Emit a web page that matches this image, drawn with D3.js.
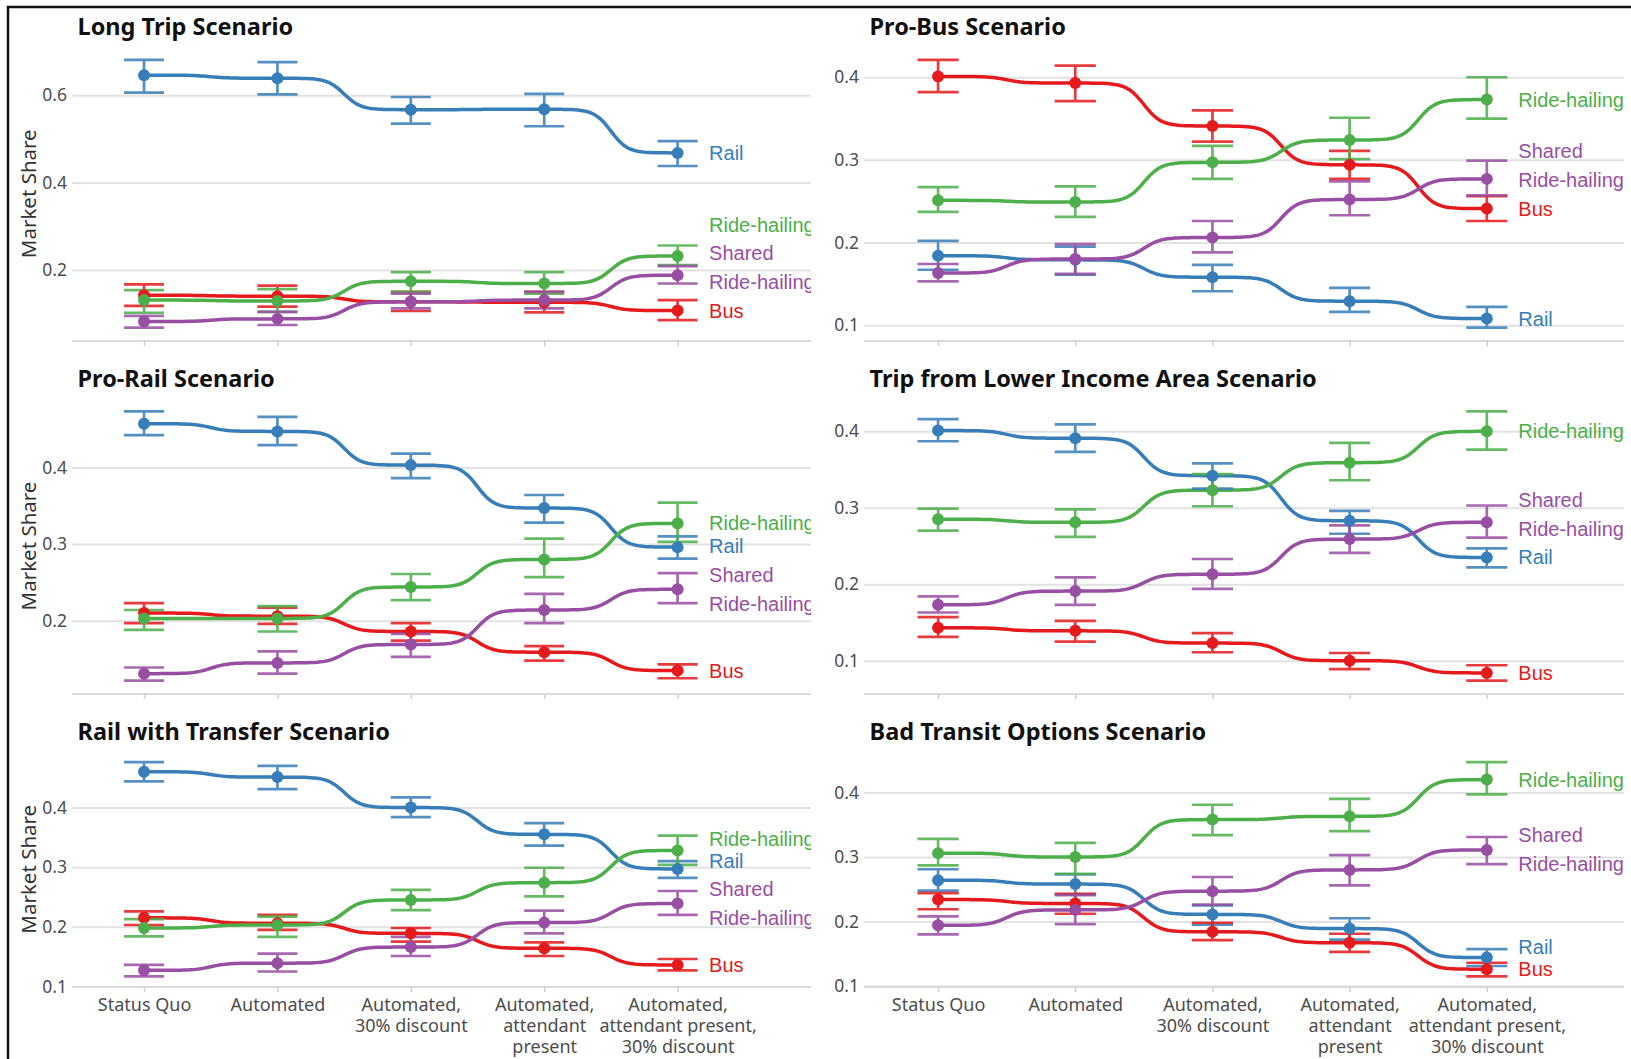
<!DOCTYPE html>
<html>
<head>
<meta charset="utf-8">
<script src="https://cdn.jsdelivr.net/npm/d3@7"></script>
<style>
  body { margin: 0; background: #fff; }
  svg { display: block; }
</style>
</head>
<body>
<svg width="1631" height="1059"></svg>
<script>
// categories on the x axis (line breaks as in the picture)
const categories = [
  ['Status Quo'],
  ['Automated'],
  ['Automated,', '30% discount'],
  ['Automated,', 'attendant', 'present'],
  ['Automated,', 'attendant present,', '30% discount']
];

const modes = ['Rail', 'Bus', 'Ride-hailing', 'Shared Ride-hailing'];
const modeLabels = [['Rail'], ['Bus'], ['Ride-hailing'], ['Shared', 'Ride-hailing']];
const modeColors = ['#377eb8', '#e41a1c', '#4daf4a', '#984ea3'];

const scenarios = [
  'Long Trip Scenario', 'Pro-Bus Scenario',
  'Pro-Rail Scenario', 'Trip from Lower Income Area Scenario',
  'Rail with Transfer Scenario', 'Bad Transit Options Scenario'
];

// rows of each array: Rail, Bus, Ride-hailing, Shared Ride-hailing
const longTripShare = [
  [0.646, 0.639, 0.567, 0.568, 0.468],
  [0.142, 0.140, 0.127, 0.126, 0.107],
  [0.131, 0.129, 0.174, 0.169, 0.232],
  [0.082, 0.088, 0.127, 0.131, 0.188]
];
const longTripLow = [
  [0.606, 0.602, 0.535, 0.529, 0.438],
  [0.118, 0.116, 0.106, 0.103, 0.085],
  [0.102, 0.104, 0.150, 0.146, 0.211],
  [0.068, 0.074, 0.112, 0.112, 0.169]
];
const longTripHigh = [
  [0.681, 0.676, 0.596, 0.603, 0.495],
  [0.167, 0.164, 0.150, 0.150, 0.131],
  [0.154, 0.156, 0.195, 0.195, 0.256],
  [0.095, 0.104, 0.146, 0.150, 0.209]
];

const proBusShare = [
  [0.184, 0.179, 0.158, 0.129, 0.108],
  [0.401, 0.393, 0.341, 0.294, 0.241],
  [0.251, 0.249, 0.297, 0.324, 0.373],
  [0.163, 0.180, 0.206, 0.252, 0.277]
];
const proBusLow = [
  [0.167, 0.161, 0.141, 0.116, 0.097],
  [0.382, 0.371, 0.322, 0.277, 0.226],
  [0.237, 0.231, 0.277, 0.301, 0.350],
  [0.153, 0.162, 0.188, 0.233, 0.257]
];
const proBusHigh = [
  [0.202, 0.195, 0.173, 0.145, 0.122],
  [0.421, 0.414, 0.360, 0.311, 0.256],
  [0.267, 0.268, 0.317, 0.351, 0.400],
  [0.174, 0.198, 0.226, 0.274, 0.299]
];

const proRailShare = [
  [0.457, 0.447, 0.403, 0.347, 0.296],
  [0.210, 0.206, 0.186, 0.159, 0.135],
  [0.203, 0.203, 0.244, 0.280, 0.327],
  [0.131, 0.145, 0.169, 0.214, 0.241]
];
const proRailLow = [
  [0.442, 0.429, 0.386, 0.328, 0.281],
  [0.197, 0.196, 0.174, 0.148, 0.125],
  [0.188, 0.186, 0.227, 0.257, 0.303],
  [0.122, 0.131, 0.153, 0.197, 0.223]
];
const proRailHigh = [
  [0.473, 0.466, 0.418, 0.364, 0.310],
  [0.223, 0.217, 0.197, 0.167, 0.143],
  [0.214, 0.219, 0.261, 0.307, 0.354],
  [0.139, 0.160, 0.183, 0.235, 0.262]
];

const lowIncomeShare = [
  [0.401, 0.391, 0.342, 0.283, 0.235],
  [0.143, 0.139, 0.123, 0.100, 0.084],
  [0.285, 0.281, 0.323, 0.359, 0.400],
  [0.173, 0.191, 0.213, 0.259, 0.281]
];
const lowIncomeLow = [
  [0.387, 0.373, 0.325, 0.266, 0.222],
  [0.131, 0.125, 0.111, 0.089, 0.074],
  [0.270, 0.262, 0.302, 0.336, 0.376],
  [0.163, 0.173, 0.194, 0.241, 0.261]
];
const lowIncomeHigh = [
  [0.416, 0.409, 0.358, 0.296, 0.247],
  [0.157, 0.152, 0.136, 0.110, 0.094],
  [0.299, 0.298, 0.344, 0.385, 0.426],
  [0.184, 0.209, 0.233, 0.277, 0.303]
];

const transferShare = [
  [0.460, 0.451, 0.400, 0.355, 0.297],
  [0.215, 0.206, 0.189, 0.164, 0.136],
  [0.198, 0.203, 0.245, 0.274, 0.328],
  [0.127, 0.139, 0.166, 0.207, 0.239]
];
const transferLow = [
  [0.444, 0.431, 0.384, 0.336, 0.282],
  [0.203, 0.195, 0.175, 0.151, 0.127],
  [0.184, 0.183, 0.228, 0.251, 0.304],
  [0.117, 0.125, 0.151, 0.189, 0.220]
];
const transferHigh = [
  [0.476, 0.470, 0.417, 0.374, 0.310],
  [0.226, 0.220, 0.198, 0.174, 0.146],
  [0.213, 0.217, 0.262, 0.299, 0.353],
  [0.136, 0.155, 0.183, 0.227, 0.260]
];

const badTransitShare = [
  [0.264, 0.258, 0.211, 0.189, 0.144],
  [0.234, 0.228, 0.184, 0.167, 0.126],
  [0.306, 0.300, 0.358, 0.363, 0.420],
  [0.194, 0.218, 0.247, 0.280, 0.311]
];
const badTransitLow = [
  [0.248, 0.242, 0.195, 0.172, 0.131],
  [0.219, 0.212, 0.171, 0.153, 0.115],
  [0.287, 0.274, 0.334, 0.340, 0.397],
  [0.180, 0.196, 0.226, 0.256, 0.289]
];
const badTransitHigh = [
  [0.281, 0.273, 0.225, 0.205, 0.157],
  [0.244, 0.243, 0.198, 0.181, 0.136],
  [0.328, 0.322, 0.381, 0.390, 0.447],
  [0.208, 0.241, 0.269, 0.303, 0.331]
];

const yTicks = [
  [0.2, 0.4, 0.6], [0.1, 0.2, 0.3, 0.4],
  [0.2, 0.3, 0.4], [0.1, 0.2, 0.3, 0.4],
  [0.1, 0.2, 0.3, 0.4], [0.1, 0.2, 0.3, 0.4]
];

const panels = [
  [longTripShare, longTripLow, longTripHigh],
  [proBusShare, proBusLow, proBusHigh],
  [proRailShare, proRailLow, proRailHigh],
  [lowIncomeShare, lowIncomeLow, lowIncomeHigh],
  [transferShare, transferLow, transferHigh],
  [badTransitShare, badTransitLow, badTransitHigh]
];

// layout
const cols = [{x0: 72, x1: 811, clip: 811}, {x0: 864, x1: 1624, clip: 1629}];
const rows = [{top: 46.5, bottom: 341}, {top: 398, bottom: 694}, {top: 751.5, bottom: 987}];

const svg = d3.select('svg');
const color = d3.scaleOrdinal(modes, modeColors);
const smooth = 8;

// frame lines seen at the top and left of the picture
svg.append('path')
  .attr('d', 'M8,1059V7H1631')
  .attr('fill', 'none')
  .attr('stroke', '#111')
  .attr('stroke-width', 2.5);

// sigmoid bump between neighbouring categories (ggbump style)
function bumpPoints(vals) {
  const pts = [];
  const n = 40;
  for (let i = 0; i < vals.length - 1; i++) {
    for (let k = 0; k <= n; k++) {
      const t = -smooth + 2 * smooth * k / n;
      const s = 1 / (1 + Math.exp(-t));
      pts.push([i + 1 + k / n, vals[i] + (vals[i + 1] - vals[i]) * s]);
    }
  }
  return pts;
}

panels.forEach((p, pi) => {
  const [share, low, high] = p;
  const col = cols[pi % 2];
  const row = rows[Math.floor(pi / 2)];

  const lo = d3.min(low.flat());
  const hi = d3.max(high.flat());
  const pad = (hi - lo) * 0.05;

  const x = d3.scaleLinear().domain([0.46, 6]).range([col.x0, col.x1]);
  const y = d3.scaleLinear().domain([lo - pad, hi + pad]).range([row.bottom, row.top]);

  const g = svg.append('g');

  // gridlines + y labels
  const yAxis = g.append('g')
    .attr('transform', `translate(${col.x0},0)`)
    .call(d3.axisLeft(y).tickValues(yTicks[pi]).tickFormat(d3.format('.1f'))
      .tickSize(-(col.x1 - col.x0)).tickPadding(5));
  yAxis.select('.domain').remove();
  yAxis.selectAll('line').attr('stroke', '#e2e2e2').attr('stroke-width', 2);
  yAxis.selectAll('text')
    .attr('font-family', 'Noto Sans')
    .attr('font-size', 17.5)
    .attr('fill', '#4d4d4d');

  // bottom axis line with ticks
  const xAxis = g.append('g')
    .attr('transform', `translate(0,${row.bottom})`)
    .call(d3.axisBottom(x).tickValues([1, 2, 3, 4, 5]).tickSize(5).tickFormat(''));
  xAxis.select('.domain')
    .attr('d', `M${col.x0},0H${col.x1}`)
    .attr('stroke', '#dadada').attr('stroke-width', 2);
  xAxis.selectAll('.tick line').attr('stroke', '#cfcfcf').attr('stroke-width', 1.5);

  if (pi >= 4) {
    xAxis.selectAll('.tick').each(function (d) {
      const t = d3.select(this).append('text')
        .attr('text-anchor', 'middle')
        .attr('font-family', 'Noto Sans')
        .attr('font-size', 18)
        .attr('fill', '#4d4d4d');
      categories[d - 1].forEach((line, li) => {
        t.append('tspan').attr('x', 0).attr('y', 24 + li * 21).text(line);
      });
    });
  }

  // title
  g.append('text')
    .attr('x', col.x0 + 5.5)
    .attr('y', row.top - 11.5)
    .attr('font-family', 'Noto Sans')
    .attr('font-weight', 'bold')
    .attr('font-size', 23.5)
    .attr('fill', '#111')
    .text(scenarios[pi]);

  // y title on the left column
  if (pi % 2 === 0) {
    g.append('text')
      .attr('transform', `translate(36,${(row.top + row.bottom) / 2}) rotate(-90)`)
      .attr('text-anchor', 'middle')
      .attr('font-family', 'Noto Sans')
      .attr('font-size', 20.5)
      .attr('fill', '#333')
      .text('Market Share');
  }

  const clipId = `clip${pi}`;
  svg.append('clipPath').attr('id', clipId)
    .append('rect')
    .attr('x', col.x0 - 30).attr('y', row.top - 20)
    .attr('width', col.clip - col.x0 + 30).attr('height', row.bottom - row.top + 40);

  const plot = g.append('g').attr('clip-path', `url(#${clipId})`);

  const line = d3.line().x(d => x(d[0])).y(d => y(d[1]));

  // lines
  plot.selectAll('.bump')
    .data(modes)
    .join('path')
    .attr('class', 'bump')
    .attr('d', (m, i) => line(bumpPoints(share[i])))
    .attr('fill', 'none')
    .attr('stroke', m => color(m))
    .attr('stroke-width', 3.5);

  // error bars
  const bars = [];
  modes.forEach((m, i) => {
    share[i].forEach((v, j) => bars.push({m, c: j + 1, lo: low[i][j], hi: high[i][j], v}));
  });
  const eb = plot.selectAll('.eb')
    .data(bars)
    .join('g')
    .attr('class', 'eb')
    .attr('stroke', d => color(d.m))
    .attr('stroke-width', 2.7)
    .attr('opacity', 0.85);
  eb.append('line')
    .attr('x1', d => x(d.c)).attr('x2', d => x(d.c))
    .attr('y1', d => y(d.lo)).attr('y2', d => y(d.hi));
  eb.append('line')
    .attr('x1', d => x(d.c - 0.15)).attr('x2', d => x(d.c + 0.15))
    .attr('y1', d => y(d.lo)).attr('y2', d => y(d.lo));
  eb.append('line')
    .attr('x1', d => x(d.c - 0.15)).attr('x2', d => x(d.c + 0.15))
    .attr('y1', d => y(d.hi)).attr('y2', d => y(d.hi));

  // points
  plot.selectAll('.pt')
    .data(bars)
    .join('circle')
    .attr('class', 'pt')
    .attr('cx', d => x(d.c))
    .attr('cy', d => y(d.v))
    .attr('r', 6)
    .attr('fill', d => color(d.m));

  // end labels, pushed upward where they would overlap
  const half = n => (n === 1 ? 11 : 32);
  const labels = modes.map((m, i) => ({
    m, lines: modeLabels[i], target: y(share[i][4])
  })).sort((a, b) => b.target - a.target);
  labels.forEach((l, i) => {
    l.y = l.target;
    if (i > 0) {
      const prev = labels[i - 1];
      l.y = Math.min(l.target, prev.y - half(prev.lines.length) - half(l.lines.length));
    }
  });

  const lt = plot.selectAll('.lab')
    .data(labels)
    .join('text')
    .attr('class', 'lab')
    .attr('font-family', 'Liberation Sans')
    .attr('font-size', 20)
    .attr('fill', d => color(d.m))
    .attr('dominant-baseline', 'central');
  lt.each(function (d) {
    const t = d3.select(this);
    const off = (d.lines.length - 1) * 14.5;
    d.lines.forEach((s, k) => {
      t.append('tspan')
        .attr('x', x(5) + 31.5)
        .attr('y', d.y - off + k * 29)
        .text(s);
    });
  });
});
</script>
</body>
</html>
